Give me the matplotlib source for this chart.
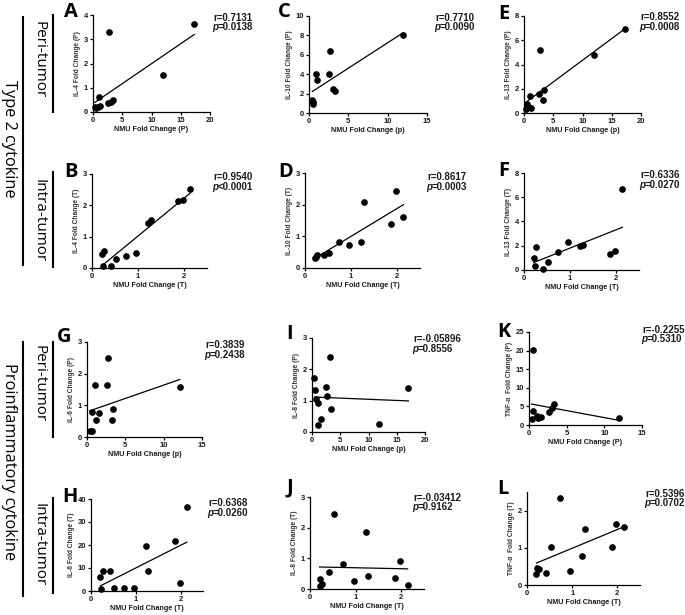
import matplotlib
matplotlib.use('Agg')
import matplotlib.pyplot as plt
from matplotlib.lines import Line2D
from matplotlib.text import Annotation
import numpy as np

# ---------------- data ----------------
NMU_T = [0.21, 0.23, 0.27, 0.42, 0.52, 0.73, 0.96, 1.22, 1.28, 1.87, 1.98, 2.14]

A_x = [0.3, 0.57, 0.86, 0.97, 1.14, 2.57, 2.74, 3.1, 3.4, 12.0, 17.3]
A_y = [0.21, 0.18, 0.21, 0.62, 0.26, 0.37, 3.30, 0.41, 0.51, 1.52, 3.61]
B_y = [0.46, 0.05, 0.53, 0.05, 0.30, 0.38, 0.48, 1.45, 1.52, 2.14, 2.17, 2.51]
C_x = [0.43, 0.45, 0.47, 0.94, 1.07, 2.49, 2.7, 3.09, 3.3, 12.0]
C_y = [1.39, 1.10, 0.90, 4.03, 3.40, 4.03, 6.42, 2.47, 2.26, 8.09]
D_y = [0.31, 0.34, 0.41, 0.40, 0.47, 0.82, 0.74, 0.83, 2.07, 1.40, 2.43, 1.62]
E_x = [0.4, 0.57, 0.69, 1.09, 1.26, 2.57, 2.8, 3.2, 3.37, 12.0, 17.26]
E_y = [0.30, 0.71, 0.49, 1.40, 0.44, 1.60, 5.16, 1.04, 1.87, 4.75, 6.90]
F_y = [0.97, 0.36, 1.88, 0.11, 0.69, 1.46, 2.29, 1.99, 2.10, 1.32, 1.57, 6.68]
G_x = [0.35, 0.66, 0.66, 1.1, 1.15, 1.59, 2.55, 2.78, 3.2, 3.44, 12.1]
G_y = [0.18, 0.18, 0.80, 1.64, 0.55, 0.76, 1.64, 2.48, 0.55, 0.88, 1.59]
H_y = [5.96, 0.7, 8.8, 8.9, 1.3, 1.4, 1.4, 19.6, 8.8, 21.8, 3.3, 36.6]
I_x = [0.42, 0.6, 0.7, 1.0, 1.06, 1.6, 2.47, 2.7, 3.18, 3.35, 11.9, 17.06]
I_y = [1.72, 1.35, 1.05, 0.22, 0.94, 0.41, 1.43, 1.16, 2.40, 0.73, 0.27, 1.40]
J_y = [0.11, 0.32, 0.15, 0.54, 2.43, 0.83, 0.27, 1.85, 0.44, 0.35, 0.90, 0.13]
K_x = [0.35, 0.49, 0.49, 1.0, 1.24, 1.55, 2.65, 3.1, 3.3, 11.9]
K_y = [1.7, 3.8, 20.2, 2.3, 1.9, 2.2, 3.6, 4.5, 5.7, 1.8]
L_y = [0.29, 0.47, 0.44, 0.33, 1.01, 2.35, 0.38, 0.78, 1.51, 1.01, 1.64, 1.56]

letters = ['A', 'B', 'C', 'D', 'E', 'F', 'G', 'H', 'I', 'J', 'K', 'L']
ylabels = ['IL-4 Fold Change (P)', 'IL-4 Fold Change (T)',
           'IL-10 Fold Change (P)', 'IL-10 Fold Change (T)',
           'IL-13 Fold Change (P)', 'IL-13 Fold Change (T)',
           'IL-6 Fold Change (P)', 'IL-6 Fold Change (T)',
           'IL-8 Fold Change (P)', 'IL-8 Fold Change (T)',
           'TNF-α  Fold Change (P)', 'TNF-α  Fold Change (T)']
xlabels = ['NMU Fold Change (P)', 'NMU Fold Change (T)',
           'NMU Fold Change (p)', 'NMU Fold Change (T)',
           'NMU Fold Change (p)', 'NMU Fold Change (T)',
           'NMU Fold Change (p)', 'NMU Fold Change (T)',
           'NMU Fold Change (p)', 'NMU Fold Change (T)',
           'NMU Fold Change (P)', 'NMU Fold Change (T)']
r_texts = ['r=0.7131', 'r=0.9540', 'r=0.7710', 'r=0.8617', 'r=0.8552', 'r=0.6336',
           'r=0.3839', 'r=0.6368', 'r=-0.05896', 'r=-0.03412', 'r=-0.2255', 'r=0.5396']
p_texts = ['=0.0138', '<0.0001', '=0.0090', '=0.0003', '=0.0008', '=0.0270',
           '=0.2438', '=0.0260', '=0.8556', '=0.9162', '=0.5310', '=0.0702']

xs = [A_x, NMU_T, C_x, NMU_T, E_x, NMU_T, G_x, NMU_T, I_x, NMU_T, K_x, NMU_T]
ys = [A_y, B_y, C_y, D_y, E_y, F_y, G_y, H_y, I_y, J_y, K_y, L_y]

# ---------------- layout (pixels) ----------------
W, H = 685, 615
fig = plt.figure(figsize=(W / 100, H / 100), dpi=100)
fig.patch.set_facecolor('white')

boxes = [(93, 15, 210, 112), (92, 174, 207, 268),
         (309, 16, 427, 113), (305, 173, 420, 268),
         (524, 16, 641, 113), (524, 173, 639, 270),
         (87, 342, 202, 437), (91, 499, 203, 591),
         (312, 338, 425, 432), (310, 497, 424, 589),
         (529, 332, 642, 425), (527, 492, 640, 585)]
xlims = [20, 2.5, 15, 2.5, 20, 2.5, 15, 2.5, 20, 2.5, 15, 2.5]
xticks = [[0, 5, 10, 15, 20], [0, 1, 2], [0, 5, 10, 15], [0, 1, 2],
          [0, 5, 10, 15, 20], [0, 1, 2], [0, 5, 10, 15], [0, 1, 2],
          [0, 5, 10, 15, 20], [0, 1, 2], [0, 5, 10, 15], [0, 1, 2]]
ylims = [4, 3, 10, 3, 8, 8, 3, 40, 3, 3, 25, 2.5]
yticks = [[0, 1, 2, 3, 4], [0, 1, 2, 3], [0, 2, 4, 6, 8, 10], [0, 1, 2, 3],
          [0, 2, 4, 6, 8], [0, 2, 4, 6, 8], [0, 1, 2, 3], [0, 10, 20, 30, 40],
          [0, 1, 2, 3], [0, 1, 2, 3], [0, 5, 10, 15, 20, 25], [0, 1, 2]]
letter_pos = [(64, 2), (64, 162), (278, 2), (278, 162), (498, 4), (498, 161),
              (57, 327), (62, 487), (286, 324), (286, 477), (497, 322), (497, 479)]
stat_pos = [(213, 18), (213, 177), (435, 18), (427, 177), (640, 17), (640, 175),
            (205, 345), (208, 503), (413, 339), (413, 498), (642, 330), (645, 494)]

def fx(px):
    return px / W

def fy(py):
    return 1 - py / H

txt_col = '#1a1a1a'
for i in range(12):
    l, t, r, b = boxes[i]
    ax = fig.add_axes([l / W, 1 - b / H, (r - l) / W, (b - t) / H])
    x = np.array(xs[i]); y = np.array(ys[i])
    ax.plot(x, y, 'o', color='black', markersize=3.8, clip_on=False, zorder=3)
    k, c = np.polyfit(x, y, 1)
    xl = np.array([x.min(), x.max()])
    ax.plot(xl, k * xl + c, '-', color='black', lw=0.9, clip_on=False)
    ax.set_xlim(0, xlims[i]); ax.set_ylim(0, ylims[i])
    ax.set_xticks(xticks[i]); ax.set_yticks(yticks[i])
    for s in ['top', 'right']:
        ax.spines[s].set_visible(False)
    for s in ['left', 'bottom']:
        ax.spines[s].set_linewidth(0.9)
        ax.spines[s].set_color('black')
    ax.tick_params(direction='out', length=2.5, width=0.9, pad=1.0,
                   labelsize=5.5, colors='black', labelcolor=txt_col)
    for lab in ax.get_xticklabels() + ax.get_yticklabels():
        lab.set_fontweight('bold')
        lab.set_family('Liberation Sans')
    ax.set_xlabel(xlabels[i], fontsize=5.2, fontweight='bold', family='Liberation Sans',
                  labelpad=1.5, color=txt_col)
    ax.set_ylabel(ylabels[i], fontsize=4.8, fontweight='bold', family='Liberation Sans',
                  labelpad=2, color='#333333')
    ax.patch.set_alpha(0)

    # panel letter
    lx, ly = letter_pos[i]
    fig.text(fx(lx), fy(ly), letters[i], fontsize=14.5, fontweight='bold',
             family='Open Sans', ha='left', va='top', color='black')
    # stats
    sx, sy = stat_pos[i]
    fig.text(fx(sx), fy(sy), r_texts[i], fontsize=7, fontweight='bold',
             family='Liberation Sans', ha='left', va='center', color=txt_col)
    tp = fig.text(fx(sx - 1), fy(sy + 9.5), 'p', fontsize=7, fontweight='bold',
                  style='italic', family='Liberation Sans', ha='left', va='center',
                  color=txt_col)
    ann = Annotation(p_texts[i], xy=(1, 0), xycoords=tp, fontsize=7,
                     fontweight='bold', family='Liberation Sans', ha='left',
                     va='bottom', color=txt_col)
    fig.add_artist(ann)

# ---------------- side labels ----------------
def vline(x, y0, y1, lw=1.5):
    fig.add_artist(Line2D([fx(x), fx(x)], [fy(y0), fy(y1)], color='black', lw=lw,
                          transform=fig.transFigure))

vline(23, 17, 265)
vline(23, 342, 596)
for (a, b) in [(15, 112), (172, 267), (342, 437), (498, 593)]:
    vline(53, a, b)

side = dict(family='Open Sans', rotation=-90, ha='center', va='center', color='black')
fig.text(fx(9), fy(139), 'Type 2 cytokine', fontsize=11.8, **side)
fig.text(fx(9), fy(462), 'Proinflammatory cytokine', fontsize=11.8, **side)
fig.text(fx(39), fy(60), 'Peri-tumor', fontsize=11, **side)
fig.text(fx(39), fy(221), 'Intra-tumor', fontsize=11, **side)
fig.text(fx(39), fy(384), 'Peri-tumor', fontsize=11, **side)
fig.text(fx(39), fy(545), 'Intra-tumor', fontsize=11, **side)

fig.savefig('out.png', dpi=100, facecolor='white')
